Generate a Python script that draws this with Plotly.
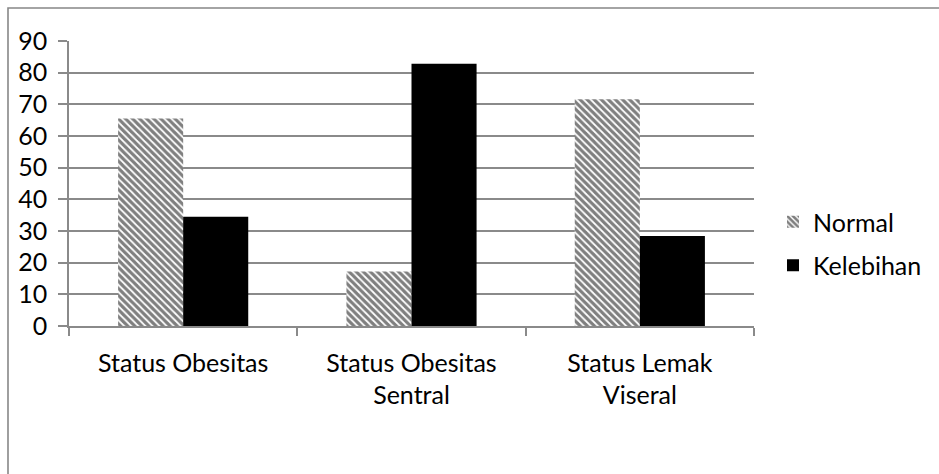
import plotly.graph_objects as go

# Data
categories = ["Status Obesitas", "Status Obesitas<br>Sentral", "Status Lemak<br>Viseral"]
normal = [65.5, 17.2, 71.6]
kelebihan = [34.5, 82.8, 28.4]
y_ticks = [0, 10, 20, 30, 40, 50, 60, 70, 80, 90]

W, H = 939, 474
ML, MR, MT, MB = 69, 185, 41, 148
pw, ph = W - ML - MR, H - MT - MB

FONT = "Lato"
FS = 25
GRID = "#8a8a8a"

fig = go.Figure()
fig.add_trace(go.Bar(
    x=categories, y=normal, name="Normal", legendgroup="a",
    marker=dict(color="white", line=dict(width=0),
                pattern=dict(shape="\\", fgcolor="black", bgcolor="white",
                             size=5, solidity=0.65)),
))
fig.add_trace(go.Bar(
    x=categories, y=kelebihan, name="Kelebihan", legendgroup="b",
    marker=dict(color="black", line=dict(width=0)),
))


def px_to_paper_x(px):
    return (px - ML) / pw


def px_to_paper_y(py):
    return (H - MB - py) / ph


# outer chart-area frame (partly outside the page)
fig.add_shape(type="rect", xref="paper", yref="paper",
              x0=px_to_paper_x(8), x1=px_to_paper_x(W + 20),
              y0=px_to_paper_y(H + 20), y1=px_to_paper_y(8),
              line=dict(color="#878787", width=1.6), fillcolor="rgba(0,0,0,0)",
              layer="below")

fig.update_layout(
    width=W, height=H,
    margin=dict(l=ML, r=MR, t=MT, b=MB, pad=0),
    paper_bgcolor="white", plot_bgcolor="white",
    barmode="group", bargap=0.43, bargroupgap=0,
    font=dict(family=FONT, size=FS, color="black"),
    showlegend=True,
    legend=dict(x=px_to_paper_x(773), y=px_to_paper_y(199), xanchor="left", yanchor="top",
                tracegroupgap=8, traceorder="grouped",
                font=dict(family=FONT, size=FS, color="black"),
                bgcolor="rgba(0,0,0,0)"),
    xaxis=dict(type="category", showgrid=False, showline=True, linecolor=GRID, linewidth=1.5,
               ticks="outside", tickson="boundaries", ticklen=8, tickcolor=GRID, tickwidth=1.5,
               tickfont=dict(family=FONT, size=FS, color="black"),
               ticklabelstandoff=14),
    yaxis=dict(range=[0, 90], tickvals=y_ticks, showgrid=True, gridcolor=GRID, gridwidth=1.5,
               showline=True, linecolor=GRID, linewidth=1.5,
               ticks="outside", ticklen=9, tickcolor=GRID, tickwidth=1.5,
               tickfont=dict(family=FONT, size=FS, color="black"),
               ticklabelstandoff=6, zeroline=False),
)

fig.write_html("out.html")
